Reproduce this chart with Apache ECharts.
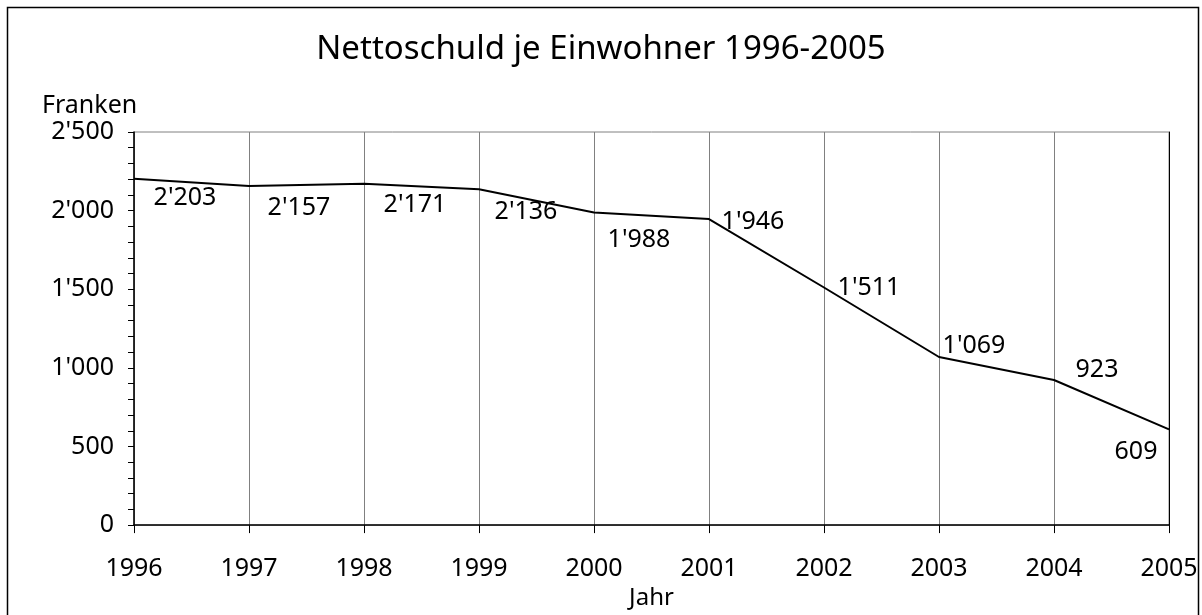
<!DOCTYPE html>
<html>
<head>
<meta charset="utf-8">
<script src="https://cdn.jsdelivr.net/npm/echarts@6/dist/echarts.min.js"></script>
<style>
  html, body { margin: 0; padding: 0; background: #fff; }
  #chart { width: 1202px; height: 615px; }
</style>
</head>
<body>
<div id="chart"></div>
<script>
const years = ['1996', '1997', '1998', '1999', '2000', '2001', '2002', '2003', '2004', '2005'];
const debtPerCapita = [2203, 2157, 2171, 2136, 1988, 1946, 1511, 1069, 923, 609];
// label placement relative to each point (px)
const labelOffsets = [[51, 19], [50, 22], [51, 21], [47, 23], [45, 27], [44, 3], [45, 0], [35, -11], [43, -10], [-33, 23]];

const fontFamily = 'Noto Sans';
const black = '#000000';
const gridGray = '#808080';

// 2'500 style thousands separator
function fmt(v) {
  return String(v).replace(/\B(?=(\d{3})+(?!\d))/g, "'");
}

const chart = echarts.init(document.getElementById('chart'));
chart.setOption({
  animation: false,
  textStyle: { fontFamily: fontFamily, color: black },
  title: {
    text: 'Nettoschuld je Einwohner 1996-2005',
    left: 'center',
    top: 28,
    textStyle: { fontFamily: fontFamily, fontSize: 33, fontWeight: 'normal', color: black }
  },
  graphic: [{
    type: 'rect',
    shape: { x: 7.5, y: 7.5, width: 1191, height: 700 },
    style: { fill: 'none', stroke: black, lineWidth: 1.5 },
    silent: true
  }],
  grid: {
    left: 134,
    right: 33,
    top: 132,
    bottom: 88,
    show: true,
    borderColor: gridGray,
    borderWidth: 1
  },
  xAxis: {
    type: 'category',
    data: years,
    boundaryGap: false,
    name: 'Jahr',
    nameLocation: 'middle',
    nameGap: 56,
    nameTextStyle: { fontSize: 24, color: black },
    axisLine: { lineStyle: { color: black, width: 1.5 } },
    axisTick: { show: true, length: 8, lineStyle: { color: black } },
    axisLabel: { fontSize: 25, color: black, margin: 31 },
    splitLine: { show: true, lineStyle: { color: gridGray, width: 1 } }
  },
  yAxis: [{
    type: 'value',
    min: 0,
    max: 2500,
    interval: 500,
    name: 'Franken',
    nameLocation: 'end',
    nameGap: 14,
    nameTextStyle: { fontSize: 25, color: black, align: 'left', padding: [0, 0, 0, -92] },
    axisLine: { show: true, lineStyle: { color: black, width: 1.5 } },
    axisTick: { show: true, length: 6, lineStyle: { color: black } },
    minorTick: { show: true, splitNumber: 5, length: 6, lineStyle: { color: black } },
    axisLabel: { fontSize: 25, color: black, margin: 20, formatter: fmt },
    splitLine: { show: false }
  }, {
    type: 'value',
    position: 'right',
    min: 0,
    max: 2500,
    interval: 500,
    axisLine: { show: true, lineStyle: { color: black, width: 1 } },
    axisTick: { show: false },
    axisLabel: { show: false },
    splitLine: { show: false }
  }],
  series: [{
    type: 'line',
    data: debtPerCapita.map((v, i) => ({
      value: v,
      label: { offset: labelOffsets[i] }
    })),
    symbol: 'circle',
    symbolSize: 1,
    showSymbol: true,
    itemStyle: { color: 'rgba(0,0,0,0)' },
    lineStyle: { color: black, width: 2 },
    label: {
      show: true,
      position: 'inside',
      fontSize: 25,
      color: black,
      formatter: p => fmt(p.value)
    }
  }]
});
</script>
</body>
</html>
